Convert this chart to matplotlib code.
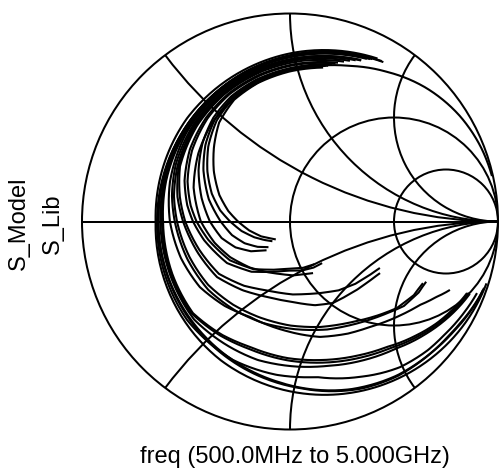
import numpy as np
import matplotlib
matplotlib.use('Agg')
import matplotlib.pyplot as plt
import matplotlib.transforms as mtransforms
from matplotlib.path import Path
from matplotlib.patches import Circle, Arc

# normalized impedance (r, x) along each sweep, 500 MHz .. 5 GHz
model_1 = [(0.22, 1.65), (0.21, 1.0), (0.205, 0.4), (0.215, 0.0), (0.2, -0.6), (0.2, -1.4), (0.2, -2.5), (0.2, -4.0), (0.21, -6.5)]
model_2 = [(0.237, 1.72), (0.225, 1.2), (0.22, 0.8), (0.22, 0.4), (0.225, 0.0), (0.225, -0.5), (0.23, -1.03),
           (0.22, -1.5), (0.23, -1.9), (0.27, -2.4), (0.32, -3.0), (0.34, -3.6), (0.32, -4.4), (0.29, -5.2), (0.27, -5.8)]
model_3 = [(0.25, 1.55), (0.235, 1.1), (0.228, 0.8), (0.225, 0.58), (0.23, 0.35), (0.235, 0.15), (0.242, 0.0),
           (0.245, -0.2), (0.251, -0.376), (0.29, -0.53), (0.336, -0.676), (0.39, -0.9), (0.455, -1.132),
           (0.55, -1.48), (0.646, -1.859), (0.73, -2.4), (0.81, -3.01), (0.95, -3.9), (1.12, -4.9)]
model_4 = [(0.28, 1.45), (0.255, 1.1), (0.245, 0.85), (0.24, 0.58), (0.245, 0.4), (0.26, 0.22), (0.276, 0.1),
           (0.296, 0.0), (0.33, -0.15), (0.37, -0.3), (0.43, -0.45), (0.5, -0.6), (0.6, -0.8), (0.729, -1.024),
           (0.94, -1.343), (1.15, -1.68), (1.375, -2.033), (1.8, -2.45), (2.31, -2.72)]
model_5 = [(0.29, 1.4), (0.26, 1.05), (0.248, 0.8), (0.245, 0.58), (0.25, 0.4), (0.265, 0.22), (0.29, 0.1),
           (0.321, 0.0), (0.37, -0.14), (0.425, -0.282), (0.52, -0.41), (0.627, -0.531), (0.75, -0.68),
           (0.88, -0.86), (1.026, -1.0), (1.15, -1.06), (1.4, -1.16), (1.65, -1.23), (1.96, -1.295)]
model_6 = [(0.31, 1.3), (0.28, 1.0), (0.265, 0.78), (0.26, 0.6), (0.265, 0.45), (0.28, 0.3), (0.305, 0.17),
           (0.335, 0.07), (0.364, 0.0), (0.41, -0.09), (0.5, -0.23), (0.62, -0.33), (0.75, -0.39), (0.88, -0.44),
           (1.0, -0.5), (1.12, -0.53), (1.24, -0.53)]
model_7 = [(0.32, 1.25), (0.295, 0.95), (0.28, 0.75), (0.278, 0.6), (0.29, 0.47), (0.315, 0.35), (0.35, 0.23),
           (0.395, 0.11), (0.444, 0.0), (0.5, -0.09), (0.57, -0.155), (0.66, -0.2), (0.77, -0.22)]
model_8 = [(0.33, 1.2), (0.305, 0.95), (0.29, 0.75), (0.292, 0.6), (0.31, 0.47), (0.345, 0.35), (0.39, 0.24),
           (0.44, 0.14), (0.495, 0.06), (0.553, 0.0), (0.62, -0.06), (0.7, -0.11), (0.77, -0.14), (0.83, -0.16)]
model_9 = [(0.27, 1.5), (0.25, 1.1), (0.235, 0.8), (0.23, 0.58), (0.235, 0.35), (0.25, 0.15), (0.268, 0.0),
           (0.295, -0.15), (0.331, -0.293), (0.39, -0.43), (0.461, -0.5625), (0.55, -0.8), (0.645, -1.066),
           (0.78, -1.33), (0.937, -1.597), (1.2, -2.1), (1.488, -2.66), (1.7, -3.3), (1.86, -4.07)]

lib_1 = [(0.232, 1.7), (0.222, 1.2), (0.218, 0.7), (0.222, 0.2), (0.228, -0.3), (0.235, -0.9), (0.23, -1.4),
         (0.24, -1.9), (0.28, -2.5), (0.31, -3.2), (0.31, -4.0), (0.28, -5.0), (0.26, -6.0)]
lib_2 = [(0.235, 1.6), (0.225, 1.0), (0.22, 0.6), (0.22, 0.0), (0.216, -0.385), (0.233, -0.644), (0.27, -0.88),
         (0.322, -1.136), (0.33, -1.5), (0.323, -1.967), (0.36, -2.5), (0.42, -3.0), (0.5, -4.1), (0.57, -5.35)]
lib_3 = [(0.24, 1.6), (0.225, 0.9), (0.22, 0.5), (0.232, 0.0), (0.24, -0.4), (0.27, -0.58), (0.3, -0.75),
         (0.36, -0.98), (0.42, -1.2), (0.5, -1.55), (0.6, -2.0), (0.68, -2.6), (0.75, -3.2), (0.85, -4.1), (0.95, -5.0)]
lib_4 = [(0.2, 9.0), (0.22, 5.5), (0.26, 3.5), (0.3, 2.4), (0.33, 1.8), (0.335, 1.4), (0.32, 1.1), (0.3, 0.85),
         (0.295, 0.62), (0.3, 0.45), (0.32, 0.3), (0.35, 0.15), (0.4, 0.0), (0.46, -0.11), (0.526, -0.203),
         (0.62, -0.3), (0.718, -0.376), (0.9, -0.5), (1.087, -0.582)]
lib_5 = [(0.3, 1.35), (0.27, 1.05), (0.255, 0.8), (0.25, 0.58), (0.255, 0.4), (0.27, 0.22), (0.3, 0.1), (0.33, 0.0),
         (0.38, -0.13), (0.44, -0.27), (0.54, -0.39), (0.66, -0.5), (0.8, -0.64), (1.0, -0.8), (1.2, -0.95),
         (1.45, -1.07), (1.75, -1.15), (2.05, -1.2)]
lib_6 = [(0.315, 1.28), (0.285, 1.0), (0.27, 0.78), (0.265, 0.6), (0.272, 0.45), (0.29, 0.3), (0.318, 0.17),
         (0.35, 0.07), (0.38, 0.0), (0.43, -0.09), (0.52, -0.22), (0.64, -0.32), (0.77, -0.38), (0.9, -0.43),
         (1.02, -0.48), (1.15, -0.5)]
lib_7 = [(0.33, 1.22), (0.3, 0.95), (0.285, 0.75), (0.285, 0.6), (0.3, 0.47), (0.33, 0.35), (0.37, 0.24),
         (0.43, 0.11), (0.5, 0.0), (0.56, -0.08), (0.63, -0.14), (0.71, -0.18), (0.79, -0.2)]
lib_8 = [(0.34, 1.18), (0.315, 0.95), (0.3, 0.75), (0.3, 0.6), (0.325, 0.47), (0.37, 0.36), (0.42, 0.25),
         (0.48, 0.14), (0.54, 0.06), (0.6, 0.0), (0.67, -0.06), (0.75, -0.11), (0.86, -0.15)]
lib_9 = [(0.275, 1.5), (0.25, 1.1), (0.24, 0.85), (0.236, 0.58), (0.24, 0.4), (0.252, 0.22), (0.268, 0.1),
         (0.287, 0.0), (0.32, -0.16), (0.36, -0.32), (0.42, -0.48), (0.49, -0.64), (0.6, -0.85), (0.74, -1.1),
         (0.95, -1.42), (1.2, -1.8), (1.45, -2.2), (1.9, -2.6), (2.4, -2.85)]
lib_10 = [(0.245, 1.58), (0.232, 1.1), (0.225, 0.8), (0.222, 0.58), (0.226, 0.35), (0.232, 0.15), (0.238, 0.0),
          (0.24, -0.2), (0.245, -0.37), (0.28, -0.52), (0.325, -0.68), (0.38, -0.92), (0.44, -1.16),
          (0.53, -1.52), (0.62, -1.9), (0.7, -2.45), (0.78, -3.1), (0.9, -4.0), (1.05, -5.0)]

model_traces = [model_1, model_2, model_3, model_4, model_5, model_6, model_7, model_8, model_9]
lib_traces = [lib_1, lib_2, lib_3, lib_4, lib_5, lib_6, lib_7, lib_8, lib_9, lib_10]

# chart grid
res_circles = [1, 3]
react_arcs = [0.5, 1, 2]


class SmithTransform(mtransforms.Transform):
    """z = r + jx  ->  gamma = (z - 1) / (z + 1)"""
    input_dims = 2
    output_dims = 2

    def transform_non_affine(self, values):
        values = np.asarray(values, dtype=float)
        z = values[:, 0] + 1j * values[:, 1]
        g = (z - 1) / (z + 1)
        return np.column_stack([g.real, g.imag])

    def transform_path_non_affine(self, path):
        path = path.interpolated(40)
        return Path(self.transform_non_affine(path.vertices), path.codes)


fig = plt.figure(figsize=(5.0, 4.72), dpi=100)
ax = fig.add_axes([0.164, 0.09, 0.832, 0.8814])
ax.set_xlim(-1, 1)
ax.set_ylim(-1, 1)
ax.set_aspect('equal')
ax.axis('off')
ax.set_autoscale_on(False)

glw = 1.45
ax.add_patch(Circle((0, 0), 1, fill=False, color='black', lw=glw, clip_on=False))
for r in res_circles:
    ax.add_patch(Circle((r / (1 + r), 0), 1 / (1 + r), fill=False, color='black', lw=glw))
ax.plot([-1, 1], [0, 0], color='black', lw=glw)
for x in react_arcs:
    rad = 1.0 / x
    px, py = (x * x - 1) / (x * x + 1), 2 * x / (x * x + 1)
    ang = np.degrees(np.arctan2(py - rad, px - 1))
    ax.add_patch(Arc((1, rad), 2 * rad, 2 * rad, theta1=ang % 360, theta2=270, color='black', lw=glw))
    ax.add_patch(Arc((1, -rad), 2 * rad, 2 * rad, theta1=90, theta2=(-ang) % 360, color='black', lw=glw))

smith = SmithTransform() + ax.transData
for tr in model_traces + lib_traces:
    rr = [p[0] for p in tr]
    xx = [p[1] for p in tr]
    ax.plot(rr, xx, color='black', lw=1.5, transform=smith, solid_capstyle='butt')

font = 'Liberation Sans'
fig.text(0.589, 1 - 457 / 472, 'freq (500.0MHz to 5.000GHz)', ha='center', va='center',
         fontsize=17, family=font)
fig.text(0.037, 0.527, 'S_Model', rotation=90, ha='center', va='center', fontsize=17, family=font)
fig.text(0.106, 0.527, 'S_Lib', rotation=90, ha='center', va='center', fontsize=17, family=font)

fig.savefig('out.png', dpi=100)
